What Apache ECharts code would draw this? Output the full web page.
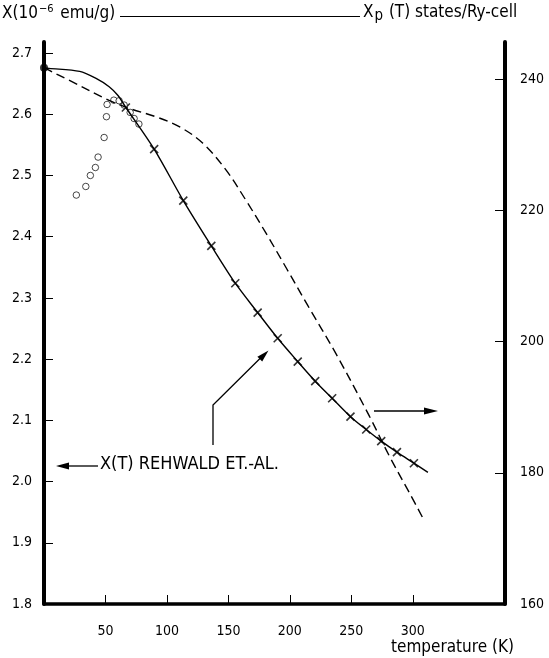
<!DOCTYPE html>
<html>
<head>
<meta charset="utf-8">
<script src="https://cdn.jsdelivr.net/npm/echarts@6/dist/echarts.min.js"></script>
<style>
  html, body { margin: 0; padding: 0; background: #fff; }
  #chart { width: 549px; height: 658px; }
</style>
</head>
<body>
<div id="chart"></div>
<script>
// ---- data ----
const xTicks = [50, 100, 150, 200, 250, 300];
const leftTicks = [1.8, 1.9, 2.0, 2.1, 2.2, 2.3, 2.4, 2.5, 2.6, 2.7];
const rightTicks = [160, 180, 200, 220, 240];

// open circles (left axis, 10^-6 emu/g)
const circleT   = [26.3, 34.0, 37.7, 41.8, 44.0, 48.9, 50.8, 51.3, 56.8, 61.1, 65.2, 70.1, 73.3, 77.2];
const circleChi = [2.468, 2.482, 2.500, 2.513, 2.530, 2.562, 2.596, 2.616, 2.623, 2.622, 2.615, 2.603, 2.593, 2.584];

// solid curve chi(T) (left axis)
const curveT   = [0, 4, 29, 42, 53, 60, 66.6, 89.6, 113.3, 136.1, 155.6, 173.8, 190.1, 206.4, 220.6, 234.4, 249.3, 262.1, 274.3, 287.1, 300.9, 312.3];
const curveChi = [2.676, 2.675, 2.670, 2.659, 2.645, 2.631, 2.611, 2.543, 2.459, 2.385, 2.324, 2.276, 2.234, 2.196, 2.164, 2.136, 2.106, 2.085, 2.066, 2.048, 2.030, 2.015];

// crosses: Rehwald et al. (left axis)
const crossT   = [66.6, 89.6, 113.3, 136.1, 155.6, 173.8, 190.1, 206.4, 220.6, 234.4, 249.3, 262.1, 274.3, 287.1, 300.9];
const crossChi = [2.611, 2.543, 2.459, 2.385, 2.324, 2.276, 2.234, 2.196, 2.164, 2.136, 2.106, 2.085, 2.066, 2.048, 2.030];

// dashed curve chi_p(T), states/Ry-cell (right axis)
const xpT   = [0, 4, 20, 53, 69, 91, 110, 129, 148, 163.8, 180.1, 197.2, 214.3, 237.7, 264.8, 281.1, 297.4, 308.2];
const xpVal = [241.8, 241.4, 239.9, 236.8, 235.6, 234.3, 232.8, 230.3, 226.2, 221.7, 216.7, 211.2, 205.6, 198.1, 188.6, 182.5, 176.9, 173.1];

// filled dot at T = 0
const dotT = [0];
const dotChi = [2.676];

const zip = (a, b) => a.map((v, i) => [v, b[i]]);

const FONT = '"DejaVu Sans Condensed", "DejaVu Sans", sans-serif';
const chart = echarts.init(document.getElementById('chart'), null, { renderer: 'canvas' });

const axisLineStyle = { color: '#000', width: 4 };

const option = {
  animation: false,
  backgroundColor: '#fff',
  grid: { left: 44, right: 44, top: 42, bottom: 54 },
  xAxis: {
    type: 'value', min: 0, max: 375,
    axisLine: { show: true, onZero: false, lineStyle: { color: '#000', width: 3.5 } },
    axisTick: { show: true, inside: true, length: 9, lineStyle: { color: '#000', width: 1 }, customValues: xTicks },
    axisLabel: { color: '#000', fontFamily: FONT, fontSize: 14, margin: 20, customValues: xTicks },
    splitLine: { show: false }
  },
  yAxis: [
    {
      type: 'value', min: 1.8, max: 2.718, position: 'left',
      axisLine: { show: true, lineStyle: axisLineStyle },
      axisTick: { show: true, inside: true, length: 9, lineStyle: { color: '#000', width: 1 }, customValues: leftTicks.slice(1) },
      axisLabel: { color: '#000', fontFamily: FONT, fontSize: 14, margin: 12, customValues: leftTicks,
                   formatter: v => v.toFixed(1) },
      splitLine: { show: false }
    },
    {
      type: 'value', min: 160, max: 245.7, position: 'right',
      axisLine: { show: true, lineStyle: axisLineStyle },
      axisTick: { show: true, inside: true, length: 10, lineStyle: { color: '#000', width: 1 }, customValues: rightTicks.slice(1) },
      axisLabel: { color: '#000', fontFamily: FONT, fontSize: 14, margin: 15, customValues: rightTicks },
      splitLine: { show: false }
    }
  ],
  series: [
    {
      name: 'chi_p(T)', type: 'line', yAxisIndex: 1,
      data: zip(xpT, xpVal), smooth: 0.35, symbol: 'none',
      lineStyle: { color: '#000', width: 1.4, type: [9, 5] }
    },
    {
      name: 'chi(T)', type: 'line', yAxisIndex: 0,
      data: zip(curveT, curveChi), smooth: 0.3, symbol: 'none',
      lineStyle: { color: '#000', width: 1.4 }
    },
    {
      name: 'Rehwald', type: 'scatter', yAxisIndex: 0,
      data: zip(crossT, crossChi),
      symbol: 'path://M0,0L10,10M10,0L0,10', symbolSize: 8,
      itemStyle: { color: 'rgba(0,0,0,0)', borderColor: '#000', borderWidth: 1.6 }
    },
    {
      name: 'circles', type: 'scatter', yAxisIndex: 0,
      data: zip(circleT, circleChi),
      symbol: 'circle', symbolSize: 6.5,
      itemStyle: { color: '#fff', borderColor: '#000', borderWidth: 0.9 }
    },
    {
      name: 'dot', type: 'scatter', yAxisIndex: 0, clip: false,
      data: zip(dotT, dotChi), symbol: 'circle', symbolSize: 8,
      itemStyle: { color: '#000' }, z: 5
    }
  ],
  graphic: [
    // top axis titles
    { type: 'text', left: 2, top: 4,
      style: { text: '{a|X(10}{s|−6}{a| emu/g)}', fill: '#000',
        rich: { a: { fontFamily: FONT, fontSize: 17, fill: '#000' },
                s: { fontFamily: FONT, fontSize: 11, fill: '#000', verticalAlign: 'top', padding: [0, 2, 8, 1] } } } },
    { type: 'line', shape: { x1: 120, y1: 16.5, x2: 360, y2: 16.5 }, style: { stroke: '#000', lineWidth: 1 } },
    { type: 'text', left: 363, top: 4,
      style: { text: '{a|X}{p|p}{a| (T) states/Ry-cell}', fill: '#000',
        rich: { a: { fontFamily: FONT, fontSize: 17, fill: '#000' },
                p: { fontFamily: FONT, fontSize: 15, fill: '#000', padding: [7, 1, 0, 1] } } } },
    // x axis title
    { type: 'text', left: 391, top: 639,
      style: { text: 'temperature (K)', fontFamily: FONT, fontSize: 17, fill: '#000' } },
    // left arrow + label
    { type: 'line', shape: { x1: 98, y1: 466, x2: 66, y2: 466 }, style: { stroke: '#000', lineWidth: 1.3 } },
    { type: 'polygon', shape: { points: [[56, 466], [69, 462.5], [69, 469.5]] }, style: { fill: '#000' } },
    { type: 'text', left: 100, top: 455,
      style: { text: 'X(T) REHWALD ET.-AL.', fontFamily: FONT, fontSize: 18, fill: '#000' } },
    // pointer arrow to the crosses
    { type: 'polyline', shape: { points: [[213, 445], [213, 405], [261, 357.5]] }, style: { stroke: '#000', lineWidth: 1.3, fill: null } },
    { type: 'polygon', shape: { points: [[268.5, 350.5], [262.2, 361.6], [257.4, 356.8]] }, style: { fill: '#000' } },
    // right arrow
    { type: 'line', shape: { x1: 374, y1: 411, x2: 427, y2: 411 }, style: { stroke: '#000', lineWidth: 1.3 } },
    { type: 'polygon', shape: { points: [[438, 411], [424, 407.5], [424, 414.5]] }, style: { fill: '#000' } }
  ]
};
chart.setOption(option);
</script>
</body>
</html>
